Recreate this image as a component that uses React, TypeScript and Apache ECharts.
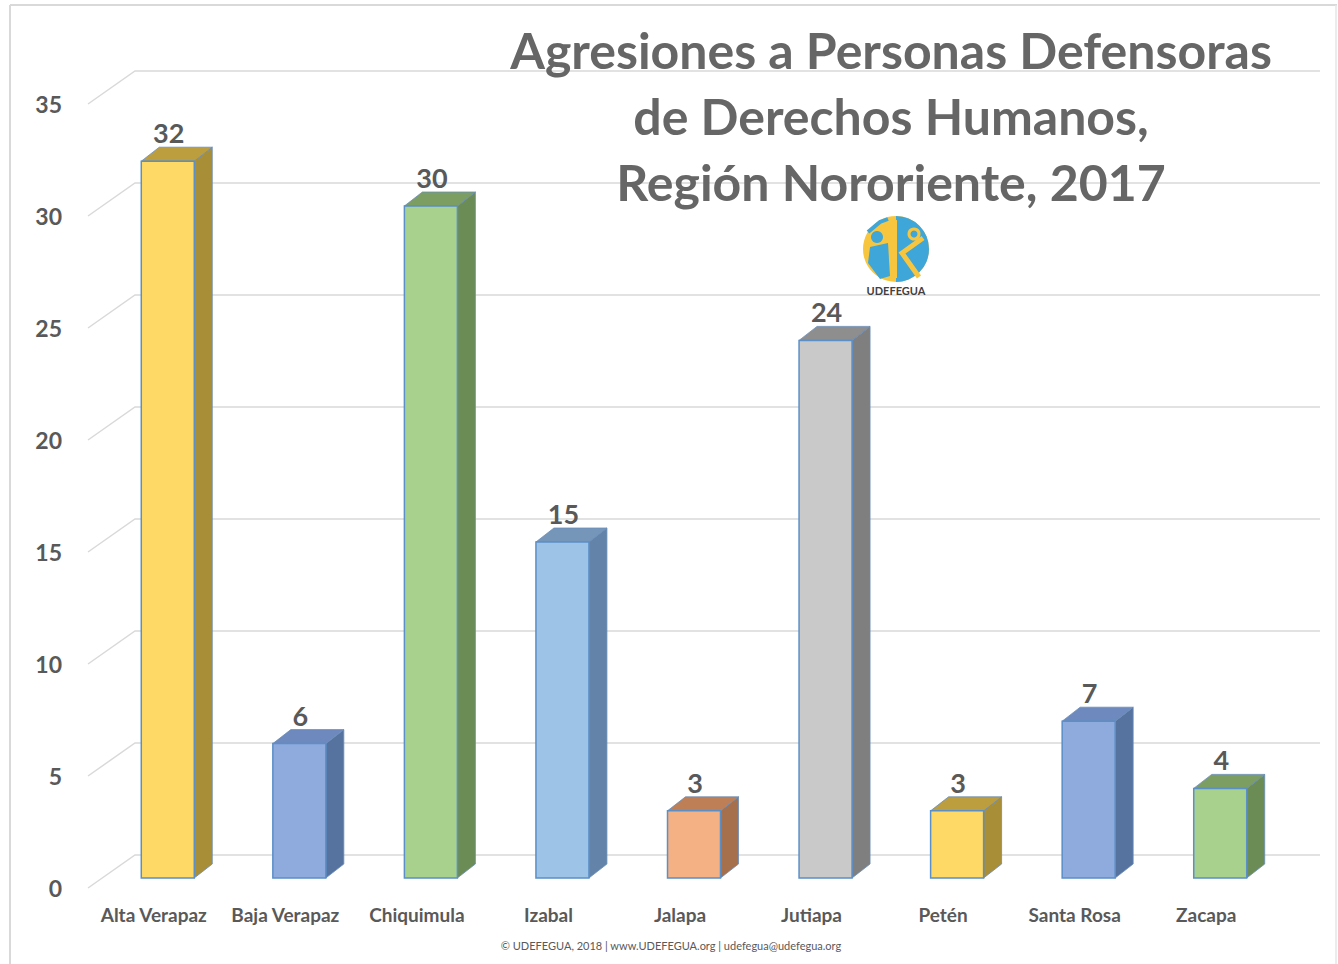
import React, { useEffect, useRef } from "react";
import * as echarts from "echarts";

const categories = ["Alta Verapaz", "Baja Verapaz", "Chiquimula", "Izabal", "Jalapa", "Jutiapa", "Petén", "Santa Rosa", "Zacapa"];
const values = [32, 6, 30, 15, 3, 24, 3, 7, 4];
const yTicks = [0, 5, 10, 15, 20, 25, 30, 35];
const titleLines = ["Agresiones a Personas Defensoras", "de Derechos Humanos,", "Región Nororiente, 2017"];
const footerText = "© UDEFEGUA, 2018 | www.UDEFEGUA.org | udefegua@udefegua.org";

const YELLOW = { front: "#FFD966", side: "#A88E36", top: "#BC9E3E" };
const BLUE = { front: "#8FAADC", side: "#56729F", top: "#6D89BD" };
const GREEN = { front: "#A9D18E", side: "#6B8C55", top: "#7C9E62" };
const LBLUE = { front: "#9DC3E6", side: "#6384A8", top: "#7696B9" };
const ORANGE = { front: "#F4B183", side: "#A6704C", top: "#BF7F56" };
const GRAY = { front: "#C9C9C9", side: "#7F7F7F", top: "#8E8E8E" };
const barStyles = [YELLOW, BLUE, GREEN, LBLUE, ORANGE, GRAY, YELLOW, BLUE, GREEN];

const FONT = "Lato, 'Open Sans', sans-serif";
const TEXT_GRAY = "#595959";

export default function App() {
  const ref = useRef<HTMLDivElement>(null);
  useEffect(() => {
    document.body.style.margin = "0";
    const chart = echarts.init(ref.current!, null, { renderer: "svg" });
    const cx = 896, cy = 249, r = 33;
    const option: any = {
      animation: false,
      backgroundColor: "#ffffff",
      grid: { left: 88, right: 66, top: 104, bottom: 76, containLabel: false },
      xAxis: {
        type: "category",
        data: categories,
        axisLine: { show: false },
        axisTick: { show: false },
        axisLabel: { interval: 0, hideOverlap: false, color: TEXT_GRAY, fontSize: 19, fontWeight: "bold", fontFamily: FONT, margin: 17 },
        splitLine: { show: false },
      },
      yAxis: {
        type: "value",
        min: 0,
        max: 35,
        interval: 5,
        axisLine: { show: false },
        axisTick: { show: false },
        splitLine: { show: false },
        axisLabel: { color: TEXT_GRAY, fontSize: 23, fontWeight: "bold", fontFamily: FONT, margin: 26 },
      },
      series: [
        {
          type: "custom",
          z: 1,
          silent: true,
          data: yTicks.map((t) => [0, t]),
          encode: { x: 0, y: 1 },
          renderItem: (params: any, api: any) => {
            const v = api.value(1);
            const p = api.coord([0, v]);
            const cs = params.coordSys;
            const x0 = cs.x;
            const x1 = cs.x + cs.width;
            return {
              type: "polyline",
              shape: { points: [[x0, p[1]], [x0 + 47, p[1] - 33], [x1 + 48, p[1] - 33]] },
              style: { stroke: "#D9D9D9", lineWidth: 1.5, fill: null },
            };
          },
        },
        {
          type: "custom",
          z: 2,
          data: values.map((v, i) => [i, v]),
          encode: { x: 0, y: 1 },
          renderItem: (params: any, api: any) => {
            const i = api.value(0);
            const v = api.value(1);
            const base = api.coord([i, 0]);
            const top = api.coord([i, v]);
            const c = base[0] + 14;
            const xl = c - 26.5;
            const xr = c + 26.5;
            const yb = base[1] - 10;
            const yt = top[1] - 10;
            const s = barStyles[params.dataIndex];
            const edge = "#6A8DB8";
            return {
              type: "group",
              children: [
                {
                  type: "polygon",
                  shape: { points: [[xr, yt], [xr + 18, yt - 14], [xr + 18, yb - 14], [xr, yb]] },
                  style: { fill: s.side, stroke: edge, lineWidth: 0.8 },
                },
                {
                  type: "polygon",
                  shape: { points: [[xl, yt], [xl + 18, yt - 14], [xr + 18, yt - 14], [xr, yt]] },
                  style: { fill: s.top, stroke: edge, lineWidth: 0.8 },
                },
                {
                  type: "rect",
                  shape: { x: xl, y: yt, width: xr - xl, height: yb - yt },
                  style: { fill: s.front, stroke: "#5B8FC7", lineWidth: 1.5 },
                },
                {
                  type: "text",
                  x: c + 1,
                  y: yt - 15,
                  style: {
                    text: String(v),
                    fill: TEXT_GRAY,
                    font: `bold 27px ${FONT}`,
                    align: "center",
                    verticalAlign: "bottom",
                    textAlign: "center",
                    textVerticalAlign: "bottom",
                  },
                },
              ],
            };
          },
        },
      ],
      graphic: [
        { type: "line", shape: { x1: 10, y1: 5, x2: 1337, y2: 5 }, style: { stroke: "#D9D9D9", lineWidth: 2 }, z: 0 },
        { type: "line", shape: { x1: 10, y1: 5, x2: 10, y2: 964 }, style: { stroke: "#D9D9D9", lineWidth: 2 }, z: 0 },
        { type: "line", shape: { x1: 1336, y1: 5, x2: 1336, y2: 964 }, style: { stroke: "#E6E6E6", lineWidth: 1.5 }, z: 0 },
        ...titleLines.map((t, k) => ({
          type: "text",
          x: 891,
          y: 50 + k * 66,
          z: 10,
          style: {
            text: t,
            fill: "#666666",
            font: `bold 50px ${FONT}`,
            align: "center",
            verticalAlign: "middle",
            textAlign: "center",
            textVerticalAlign: "middle",
          },
        })),
        { type: "circle", shape: { cx, cy, r }, style: { fill: "#F8C63E" }, z: 10 },
        { type: "sector", shape: { cx, cy, r, startAngle: -Math.PI / 2, endAngle: Math.PI / 2 }, style: { fill: "#3EA6D8" }, z: 10 },
        { type: "rect", shape: { x: 892, y: 220, width: 5, height: 58 }, style: { fill: "#F8C63E" }, z: 11 },
        { type: "circle", shape: { cx: 877, cy: 237, r: 6 }, style: { fill: "#3EA6D8" }, z: 11 },
        { type: "polygon", shape: { points: [[870, 247], [888, 243], [890, 276], [880, 279], [868, 263]] }, style: { fill: "#3EA6D8" }, z: 11 },
        { type: "polyline", shape: { points: [[868, 232], [880, 222], [888, 219]] }, style: { stroke: "#3EA6D8", lineWidth: 4, fill: null }, z: 11 },
        { type: "circle", shape: { cx: 914, cy: 234, r: 5 }, style: { fill: "none", stroke: "#F8C63E", lineWidth: 3 }, z: 11 },
        { type: "polyline", shape: { points: [[923, 238], [902, 253], [919, 277]] }, style: { stroke: "#F8C63E", lineWidth: 5, fill: null }, z: 11 },
        {
          type: "text",
          x: cx,
          y: 290,
          z: 11,
          style: {
            text: "UDEFEGUA",
            fill: "#404040",
            font: `bold 11px ${FONT}`,
            align: "center",
            verticalAlign: "middle",
            textAlign: "center",
            textVerticalAlign: "middle",
          },
        },
        {
          type: "text",
          x: 671,
          y: 945,
          z: 11,
          style: {
            text: footerText,
            fill: TEXT_GRAY,
            font: `11px ${FONT}`,
            align: "center",
            verticalAlign: "middle",
            textAlign: "center",
            textVerticalAlign: "middle",
          },
        },
      ],
    };
    chart.setOption(option);
    return () => chart.dispose();
  }, []);
  return <div ref={ref} style={{ width: 1338, height: 964 }} />;
}
